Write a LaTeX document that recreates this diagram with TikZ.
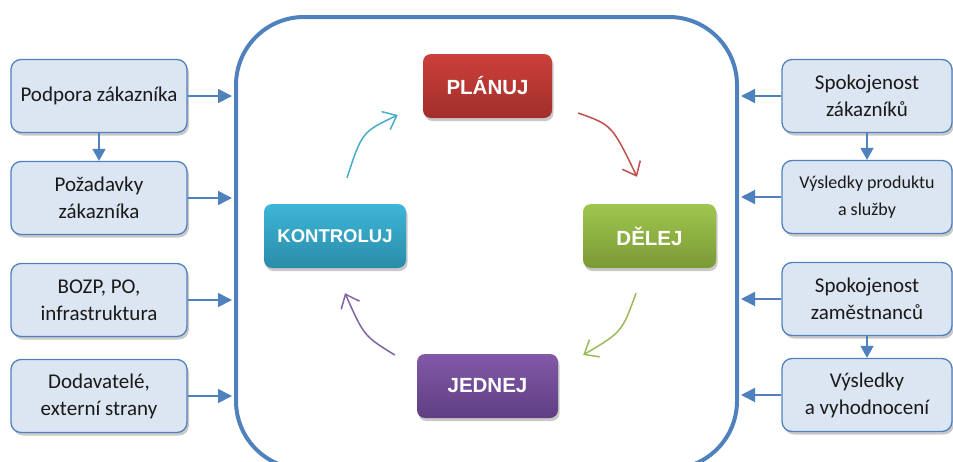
\documentclass[tikz,border=0pt]{standalone}
\usepackage{fontspec}
\setmainfont{Carlito}
\newfontfamily\boldsans{Liberation Sans}
\usetikzlibrary{arrows.meta,shadows,calc}
\definecolor{frameblue}{HTML}{4F81BD}
\definecolor{boxfill}{HTML}{DCE6F2}
\definecolor{redtop}{HTML}{CD403B}
\definecolor{redbot}{HTML}{A02E2A}
\definecolor{greentop}{HTML}{A0C64E}
\definecolor{greenbot}{HTML}{7A9A36}
\definecolor{cyantop}{HTML}{3DB6D8}
\definecolor{cyanbot}{HTML}{2A8CA8}
\definecolor{purptop}{HTML}{8159A8}
\definecolor{purpbot}{HTML}{5F3E82}
\definecolor{redline}{HTML}{C0504D}
\definecolor{greenline}{HTML}{9BBB59}
\definecolor{cyanline}{HTML}{4BACC6}
\definecolor{purpline}{HTML}{8064A2}
\begin{document}
\begin{tikzpicture}[x=1pt,y=-1pt,
  sidebox/.style={draw=frameblue, line width=1.3pt, fill=boxfill, rounded corners=10pt,
    align=center, font=\fontsize{21}{27}\selectfont, text=black!90,
    minimum width=176pt, minimum height=73pt, inner sep=2pt,
    drop shadow={shadow xshift=2pt, shadow yshift=-3pt, opacity=0.3, fill=black!70}},
  cbox/.style={rounded corners=8pt, minimum height=64pt, text=white, inner sep=2pt,
    font=\boldsans\bfseries\fontsize{20.5}{24}\selectfont,
    drop shadow={shadow xshift=1.5pt, shadow yshift=-3pt, opacity=0.3, fill=black!70}},
  bluearrow/.style={draw=frameblue, line width=1.6pt, -{Triangle[length=14pt,width=14pt]}},
  cyc/.style={line width=1.5pt, -{Straight Barb[length=12pt,width=20pt,line width=1.5pt]}}
]
\useasboundingbox (0,0) rectangle (953,461);

% big frame
\node[draw=frameblue, line width=4pt, rounded corners=68pt, minimum width=501pt,
  minimum height=452pt, inner sep=0pt] (frame) at (486.5,243) {};

% left boxes
\node[sidebox] (l1) at (99,96) {Podpora zákazníka};
\node[sidebox] (l2) at (99,198) {Požadavky\\zákazníka};
\node[sidebox] (l3) at (99,300) {BOZP, PO,\\infrastruktura};
\node[sidebox] (l4) at (99,396) {Dodavatelé,\\externí strany};

% right boxes
\node[sidebox, minimum width=170pt] (r1) at (867,96) {Spokojenost\\zákazníků};
\node[sidebox, minimum width=170pt, font=\fontsize{18}{27}\selectfont] (r2) at (867,197) {Výsledky produktu\\a služby};
\node[sidebox, minimum width=170pt] (r3) at (867,299) {Spokojenost\\zaměstnanců};
\node[sidebox, minimum width=170pt] (r4) at (867,395) {Výsledky\\a vyhodnocení};

% blue arrows
\foreach \n in {l1,l2,l3,l4}{
  \draw[bluearrow, shorten >=2pt] (\n.east) -- (\n.east -| frame.west);
}
\foreach \n in {r1,r2,r3,r4}{
  \draw[bluearrow, shorten >=2pt] (\n.west) -- (\n.west -| frame.east);
}
\draw[bluearrow, -{Triangle[length=12pt,width=13pt]}] (l1.south) -- (l2.north);
\draw[bluearrow, -{Triangle[length=12pt,width=13pt]}] (r1.south) -- (r2.north);
\draw[bluearrow, -{Triangle[length=12pt,width=13pt]}] (r3.south) -- (r4.north);

% cycle boxes
\node[cbox, top color=redtop, bottom color=redbot, minimum width=129pt] (plan) at (487.5,86) {PLÁNUJ};
\node[cbox, top color=greentop, bottom color=greenbot, minimum width=133pt] (dele) at (649.5,236) {DĚLEJ};
\node[cbox, top color=purptop, bottom color=purpbot, minimum width=141pt] (jed) at (487.5,386) {JEDNEJ};
\node[cbox, top color=cyantop, bottom color=cyanbot, minimum width=142pt, font=\boldsans\bfseries\fontsize{18.5}{22}\selectfont] (kon) at (335,236) {KONTROLUJ};

% cycle arrows
\draw[cyc, draw=redline] ($(plan.east)+(26,27)$) .. controls (612,125) .. ($(dele.north)+(-12.5,-27)$);
\draw[cyc, draw=greenline] ($(dele.south)+(-13.5,25)$) .. controls (622,332) .. ($(jed.east)+(25,-31)$);
\draw[cyc, draw=purpline] ($(jed.west)+(-22,-31)$) .. controls (364,336) .. ($(kon.south)+(10,25)$);
\draw[cyc, draw=cyanline] ($(kon.north)+(12,-26)$) .. controls (362,132) .. ($(plan.west)+(-25,29)$);
\end{tikzpicture}
\end{document}
